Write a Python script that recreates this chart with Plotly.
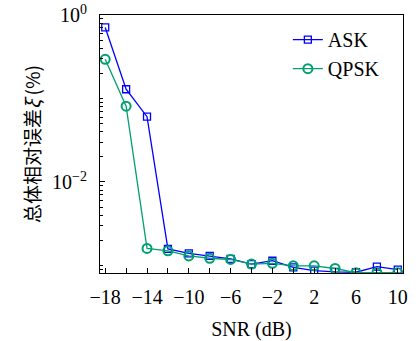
import plotly.graph_objects as go

snr = [-18, -16, -14, -12, -10, -8, -6, -4, -2, 0, 2, 4, 6, 8, 10]
ask = [0.71, 0.129, 0.0605, 0.00158, 0.0014, 0.0013, 0.0012, 0.00104, 0.00114,
       0.00095, 0.00087, 0.00084, 0.00083, 0.00097, 0.00089]
qpsk = [0.295, 0.081, 0.0016, 0.0015, 0.0013, 0.00122, 0.00118, 0.00104, 0.00106,
        0.00099, 0.00099, 0.00092, 0.00082, 0.00082, 0.00082]
x_tickvals = [-18, -14, -10, -6, -2, 2, 6, 10]
x_ticktext = ["−18", "−14", "−10", "−6", "−2", "2", "6", "10"]
y_tickvals = [1, 0.01]
y_ticktext = ["10<sup>0</sup>", "10<sup>−2</sup>"]

serif = "Liberation Serif"

fig = go.Figure()
fig.add_trace(go.Scatter(
    x=snr, y=ask, name="ASK", mode="lines+markers",
    line=dict(color="#0000ff", width=1.3),
    marker=dict(symbol="square-open", size=7, color="#0000ff", line=dict(width=1.3)),
))
fig.add_trace(go.Scatter(
    x=snr, y=qpsk, name="QPSK", mode="lines+markers",
    line=dict(color="#00a070", width=1.3),
    marker=dict(symbol="circle-open", size=9, color="#00a070", line=dict(width=2)),
))

minor_vals = []
for k in range(-4, 1):
    for m in range(1, 10):
        minor_vals.append(m * 10 ** k)

fig.update_layout(
    width=420, height=341,
    margin=dict(l=100, r=17, t=15, b=68, autoexpand=False),
    paper_bgcolor="white", plot_bgcolor="white",
    font=dict(family=serif, size=20, color="black"),
    showlegend=True,
    legend=dict(x=0.62, y=0.98, xanchor="left", yanchor="top",
                bgcolor="rgba(0,0,0,0)", font=dict(size=20, family=serif),
                itemwidth=30, tracegroupgap=0),
    xaxis=dict(
        range=[-18.5, 10.5], tickvals=x_tickvals, ticktext=x_ticktext,
        ticks="inside", ticklen=5, tickcolor="black", ticklabelstandoff=6,
        minor=dict(tickvals=list(range(-18, 11, 2)), ticks="inside", ticklen=5, tickcolor="black"),
        showline=True, linecolor="black", linewidth=1, mirror=True,
        showgrid=False, zeroline=False,
        title=dict(text="SNR (dB)", font=dict(size=20, family=serif), standoff=14),
        tickfont=dict(size=20, family=serif),
    ),
    yaxis=dict(
        type="log", range=[-3.09, 0.0],
        tickvals=y_tickvals, ticktext=y_ticktext,
        ticks="inside", ticklen=5, tickcolor="black", ticklabelstandoff=8,
        minor=dict(tickvals=minor_vals, ticks="inside", ticklen=3, tickcolor="black"),
        showline=True, linecolor="black", linewidth=1, mirror=True,
        showgrid=False, zeroline=False,
        title=dict(text="总体相对误差<i>ξ</i> (%)",
                   font=dict(size=19, family="Noto Sans CJK SC"), standoff=6),
        tickfont=dict(size=20, family=serif),
    ),
)

fig.write_html("out.html", config={"displayModeBar": False},
               post_script="document.body.style.margin='0';")
